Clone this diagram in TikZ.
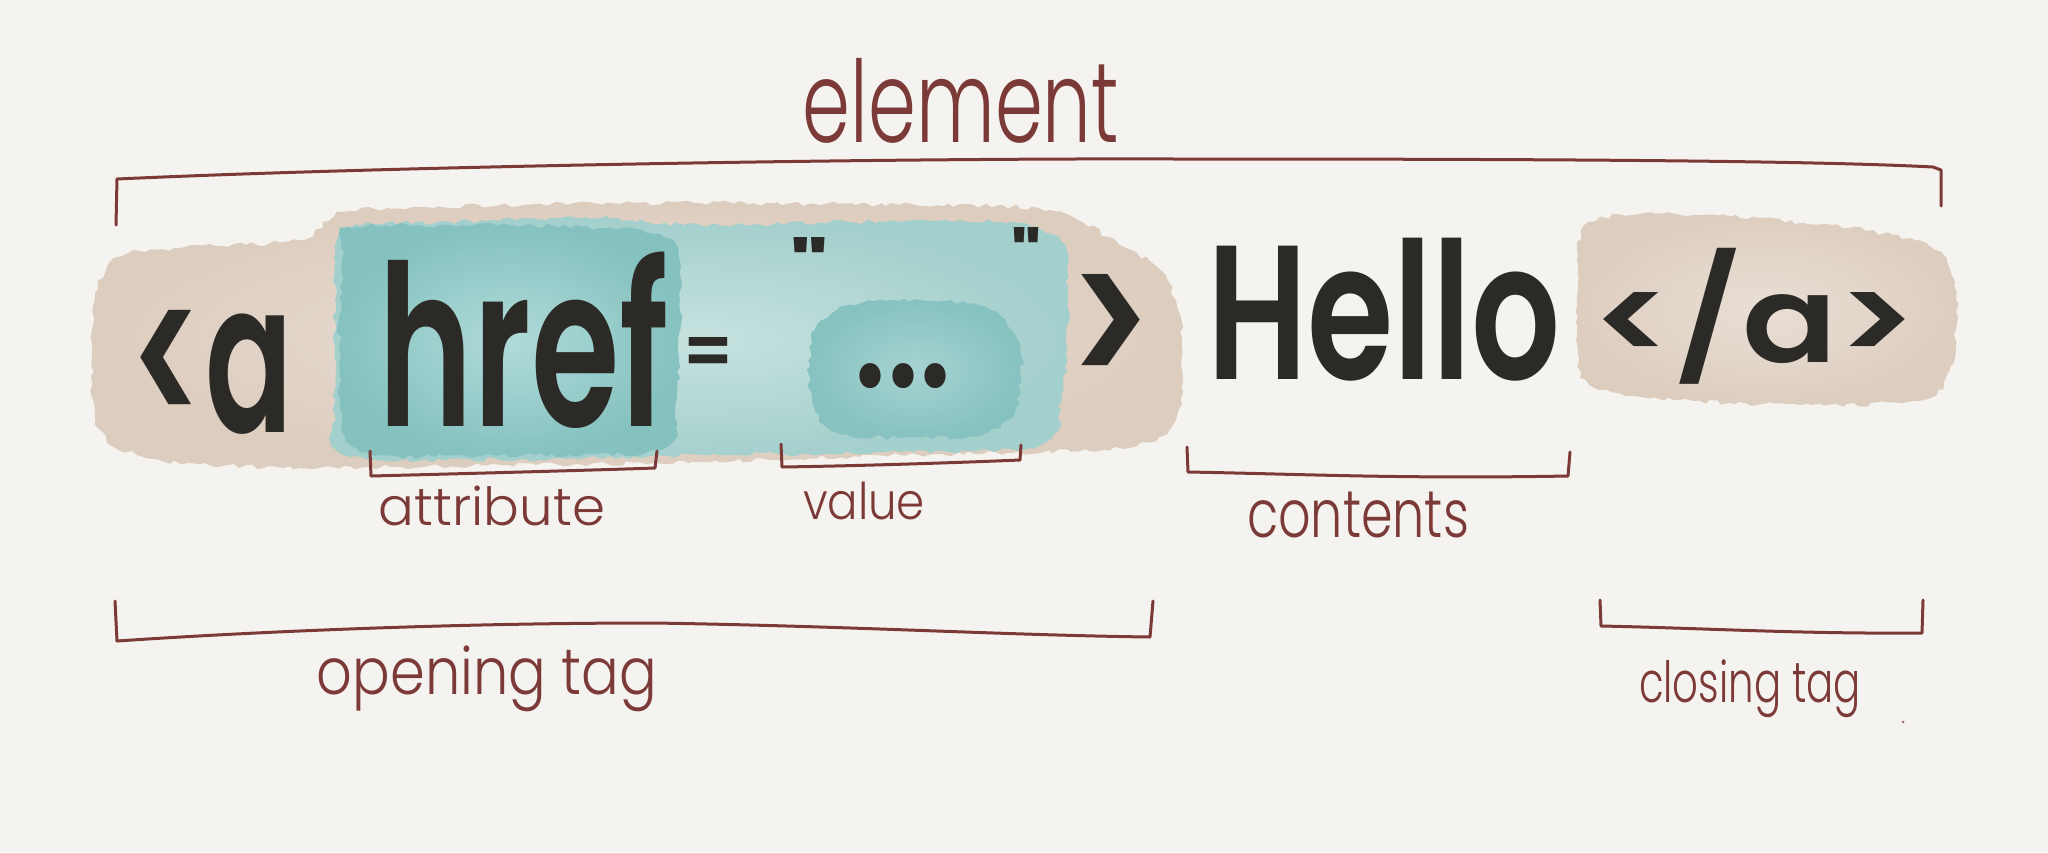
\documentclass[tikz,border=0pt]{standalone}
\usepackage{fontspec}
\setmainfont{Poppins}[BoldFont={* SemiBold}]
\newfontfamily\lblfont{Poppins}[UprightFont={* Light}]
\newfontfamily\qfont{Poppins}[UprightFont={* SemiBold},Ligatures=TeXOff]
\usetikzlibrary{decorations.pathmorphing}
\definecolor{bg}{HTML}{F5F3EF}
\definecolor{ink}{HTML}{2B2A26}
\definecolor{brk}{HTML}{7B3A37}
\definecolor{tanin}{HTML}{E9DFD6}
\definecolor{tanout}{HTML}{DDCDBF}
\definecolor{tealin}{HTML}{C6E2DF}
\definecolor{tealout}{HTML}{A3CFCC}
\definecolor{hrefin}{HTML}{B0DBD9}
\definecolor{hrefout}{HTML}{84C1BF}
\definecolor{valin}{HTML}{A6D3D1}
\definecolor{valout}{HTML}{86C2C0}
\tikzset{
  brkline/.style={draw=brk, line width=1.5pt, line cap=round, line join=round},
  code/.style={inner sep=0pt, text=ink, font=\bfseries},
  lbl/.style={inner sep=0pt, text=brk, font=\lblfont},
  wash/.style={decorate, decoration={random steps, segment length=3pt, amplitude=1.2pt}},
}
\begin{document}
\begin{tikzpicture}[x=0.5pt,y=-0.5pt]
\pgfmathsetseed{7}
\fill[bg] (0,0) rectangle (2048,852);
\useasboundingbox (0,0) rectangle (2048,852);

% watercolor washes
\shade[wash, inner color=tanin, outer color=tanout] plot[smooth cycle] coordinates {(92,330) (110,262) (180,248) (300,240) (345,212) (500,205) (700,203) (900,205) (1050,210) (1120,245) (1165,275) (1182,340) (1175,420) (1120,448) (900,455) (700,462) (500,465) (300,468) (160,460) (100,430)};
\shade[wash, inner color=tealin, outer color=tealout] plot[smooth cycle] coordinates {(335,300) (345,230) (450,222) (600,218) (700,225) (850,222) (1000,222) (1060,240) (1068,300) (1062,400) (1040,445) (900,452) (700,455) (500,460) (345,455) (335,400)};
\shade[wash, inner color=hrefin, outer color=hrefout] plot[smooth cycle] coordinates {(342,260) (350,228) (450,225) (600,228) (672,240) (680,300) (676,400) (660,450) (500,455) (360,452) (340,400)};
\shade[wash, inner color=valin, outer color=valout] plot[smooth cycle] coordinates {(815,330) (850,305) (920,300) (990,310) (1020,350) (1015,410) (980,435) (900,438) (830,430) (810,390)};
\shade[wash, inner color=tanin, outer color=tanout] plot[smooth cycle] coordinates {(1578,290) (1590,222) (1700,215) (1850,228) (1935,250) (1956,300) (1950,370) (1920,400) (1800,405) (1680,400) (1590,385) (1576,340)};

% code text
\node[code] (lta)   at (212,372)  {\resizebox*{81.5pt}{62pt}{<a}};
\node[code] (href)  at (524,340)  {\resizebox*{145pt}{88.5pt}{href}};
\node[code] (eq)    at (708,357)  {\resizebox*{26pt}{19.5pt}{=}};
\node[code] (q1)    at (809,263)  {\resizebox*{19pt}{26pt}{\qfont"}};
\node[code] (dots)  at (903,376)  {\resizebox*{48pt}{12.5pt}{...}};
\node[code] (q2)    at (1026,253) {\resizebox*{15pt}{26pt}{\qfont"}};
\node[code] (gt)    at (1110,333) {\resizebox*{42pt}{59pt}{>}};
\node[code] (hello) at (1384,310) {\resizebox*{176.5pt}{71.5pt}{Hello}};
\node[code] (close) at (1755,316) {\resizebox*{162pt}{68pt}{</a>}};

% brackets
\draw[brkline] (116,225) -- (117,179) .. controls (400,166) and (900,158) .. (1175,159) .. controls (1500,159) and (1800,160) .. (1933,167) -- (1941,170) -- (1941,206);
\draw[brkline] (370,451) -- (371,476) .. controls (450,474) and (600,470) .. (655,468) -- (657,451);
\draw[brkline] (781,444) -- (782,467) .. controls (850,466) and (950,463) .. (1020,460) -- (1021,445);
\draw[brkline] (1187,447) -- (1188,472) .. controls (1300,474) and (1400,479) .. (1568,476) -- (1570,452);
\draw[brkline] (115,601) -- (117,641) .. controls (250,632) and (450,623) .. (653,623) .. controls (850,626) and (1000,635) .. (1150,637) -- (1153,601);
\draw[brkline] (1600,600) -- (1601,626) .. controls (1700,628) and (1800,634) .. (1922,633) -- (1923,600);

% labels
\node[lbl] (element)  at (961,101)  {\resizebox*{158pt}{42.5pt}{element}};
\node[lbl] (attr)     at (492,506)  {\resizebox*{113pt}{20pt}{attribute}};
\node[lbl] (value)    at (864,501)  {\resizebox*{61pt}{19pt}{value}};
\node[lbl] (contents) at (1358,515) {\resizebox*{111pt}{23pt}{contents}};
\node[lbl] (opening)  at (487,679)  {\resizebox*{170pt}{33pt}{opening tag}};
\node[lbl] (closing)  at (1750,689) {\resizebox*{111pt}{29pt}{closing tag}};
\fill[brk!70] (1903,722) circle (1.5);
\end{tikzpicture}
\end{document}
